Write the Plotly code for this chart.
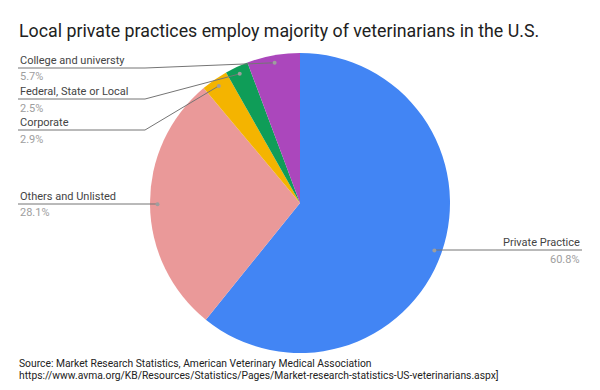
import math
import plotly.graph_objects as go

# ---- data ----
categories = ["Private Practice", "Others and Unlisted", "Corporate",
              "Federal, State or Local", "College and universty"]
values = [60.8, 28.1, 2.9, 2.5, 5.7]
colors = ["#4285F4", "#EA9999", "#F4B400", "#0F9D58", "#AB47BC"]
title_text = "Local private practices employ majority of veterinarians in the U.S."
source_lines = ["Source: Market Research Statistics, American Veterinary Medical Association",
                "https://www.avma.org/KB/Resources/Statistics/Pages/Market-research-statistics-US-veterinarians.aspx]"]

# ---- layout constants (pixels) ----
W, H = 600, 390
CX, CY, R = 300, 203, 150
# label placement: (side, line y, elbow x)
label_layout = {
    "Private Practice": ("right", 250, None),
    "Others and Unlisted": ("left", 204, None),
    "Corporate": ("left", 130, 145),
    "Federal, State or Local": ("left", 99, 145),
    "College and universty": ("left", 68, 145),
}
LEFT_X, RIGHT_X = 18, 582


def px(x):
    return x / W


def py(y):
    return 1 - y / H


fig = go.Figure(go.Pie(
    labels=categories, values=values, sort=False, direction="clockwise",
    rotation=0, marker=dict(colors=colors, line=dict(width=0)),
    textinfo="none", hoverinfo="label+percent", showlegend=False,
    domain=dict(x=[px(CX - R), px(CX + R)], y=[py(CY + R), py(CY - R)]),
))

total = sum(values)
shapes = []
annotations = []
cum = 0.0
for cat, v in zip(categories, values):
    mid = (cum + v / 2) / total * 2 * math.pi
    cum += v
    dx = CX + 0.95 * R * math.sin(mid)
    dy = CY - 0.95 * R * math.cos(mid)
    side, ly, ex = label_layout[cat]
    pct = f"{v / total * 100:.1f}%"
    line_col = "#757575"
    if side == "right":
        pts = [(dx, ly), (RIGHT_X, ly)]
        tx, anchor = RIGHT_X, "right"
    else:
        if ex is None:
            pts = [(LEFT_X, ly), (dx, ly)]
        else:
            pts = [(LEFT_X, ly), (ex, ly), (dx, dy)]
        tx, anchor = LEFT_X, "left"
    for (x0, y0), (x1, y1) in zip(pts[:-1], pts[1:]):
        shapes.append(dict(type="line", xref="paper", yref="paper",
                           x0=px(x0), y0=py(y0), x1=px(x1), y1=py(y1),
                           line=dict(color=line_col, width=1)))
    shapes.append(dict(type="circle", xref="paper", yref="paper",
                       x0=px(dx - 2), x1=px(dx + 2), y0=py(dy + 2), y1=py(dy - 2),
                       fillcolor="#9e9e9e", line=dict(width=0)))
    annotations.append(dict(x=px(tx), y=py(ly - 8), xref="paper", yref="paper",
                            text=cat, showarrow=False, xanchor=anchor, yanchor="middle",
                            font=dict(family="Roboto", size=11, color="#444444")))
    annotations.append(dict(x=px(tx), y=py(ly + 9), xref="paper", yref="paper",
                            text=pct, showarrow=False, xanchor=anchor, yanchor="middle",
                            font=dict(family="Roboto", size=11, color="#9e9e9e")))

annotations.append(dict(x=px(17), y=py(31), xref="paper", yref="paper", text=title_text,
                        showarrow=False, xanchor="left", yanchor="middle",
                        font=dict(family="Roboto", size=17.8, color="#212121")))
for i, s in enumerate(source_lines):
    annotations.append(dict(x=px(17), y=py(363 + 12 * i), xref="paper", yref="paper", text=s,
                            showarrow=False, xanchor="left", yanchor="middle",
                            font=dict(family="Roboto", size=10.3, color="#222222")))

fig.update_layout(width=W, height=H, margin=dict(l=0, r=0, t=0, b=0),
                  paper_bgcolor="white", plot_bgcolor="white",
                  shapes=shapes, annotations=annotations)
fig.write_html("out.html", config={"displayModeBar": False},
               post_script="document.body.style.margin='0px';")
